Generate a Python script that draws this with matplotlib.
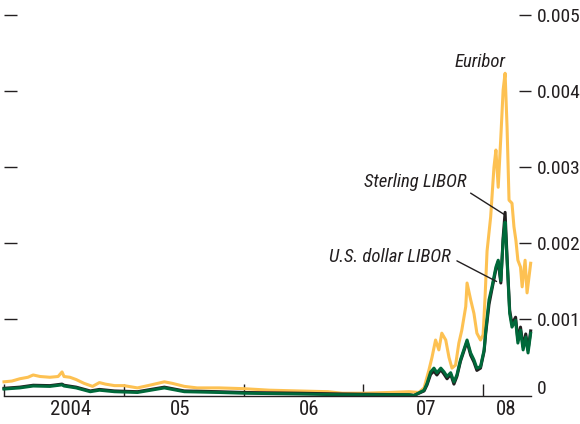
#!/usr/bin/env python

# Interbank rate spreads 2004-2008: Euribor, Sterling LIBOR, U.S. dollar LIBOR
import matplotlib
matplotlib.use("Agg")
import matplotlib.pyplot as plt
import numpy as np

plt.rcParams['font.family'] = ['Roboto Condensed', 'DejaVu Sans']

# Data
euribor_dates = [
    "2004-01-01", "2004-01-25", "2004-02-18", "2004-03-14", "2004-03-30", "2004-04-20",
    "2004-05-20", "2004-06-14", "2004-06-26", "2004-07-02", "2004-07-20", "2004-08-08",
    "2004-09-01", "2004-09-27", "2004-10-18", "2004-11-05", "2004-12-03", "2005-01-01",
    "2005-02-11", "2005-03-25", "2005-05-04", "2005-05-28", "2005-07-04", "2005-08-12",
    "2005-10-18", "2006-01-01", "2006-03-20", "2006-06-17", "2006-09-15", "2006-10-28",
    "2007-01-01", "2007-03-20", "2007-05-20", "2007-06-19", "2007-07-05", "2007-07-20",
    "2007-07-29", "2007-08-09", "2007-08-19", "2007-08-28", "2007-09-09", "2007-09-19",
    "2007-09-28", "2007-10-09", "2007-10-19", "2007-10-28", "2007-11-09", "2007-11-13",
    "2007-11-24", "2007-12-04", "2007-12-13", "2007-12-24", "2008-01-01", "2008-01-07",
    "2008-01-13", "2008-01-24", "2008-02-03", "2008-02-09", "2008-02-16", "2008-02-24",
    "2008-03-02", "2008-03-08", "2008-03-14", "2008-03-20", "2008-03-29", "2008-04-04",
    "2008-04-10", "2008-04-16", "2008-04-24", "2008-04-29", "2008-05-08", "2008-05-14",
    "2008-05-25",
]
euribor = [
    0.00018, 0.00019, 0.00022, 0.00024, 0.00027, 0.00025,
    0.00024, 0.00025, 0.00031, 0.00025, 0.00024, 0.00021,
    0.00016, 0.00012, 0.00017, 0.00015, 0.00013, 0.00013,
    0.00010, 0.00014, 0.00018, 0.00016, 0.00012, 0.00010,
    0.00010, 0.00009, 0.00007, 0.00006, 0.00005, 0.00003,
    0.00003, 0.00004, 0.00005, 0.00004, 0.00010, 0.00034,
    0.00050, 0.00073, 0.00060, 0.00082, 0.00073, 0.00050,
    0.00036, 0.00040, 0.00069, 0.00086, 0.00117, 0.00148,
    0.00126, 0.00108, 0.00082, 0.00073, 0.00080, 0.00130,
    0.00190, 0.00235, 0.00300, 0.00323, 0.00274, 0.00340,
    0.00402, 0.00424, 0.00353, 0.00257, 0.00253, 0.00222,
    0.00204, 0.00178, 0.00169, 0.00143, 0.00178, 0.00135,
    0.00174,
]

libor_dates = [
    "2004-01-01", "2004-02-18", "2004-03-30", "2004-05-20", "2004-06-26", "2004-07-02",
    "2004-08-08", "2004-09-20", "2004-10-18", "2004-12-03", "2005-02-11", "2005-05-04",
    "2005-07-04", "2005-10-18", "2006-01-01", "2006-06-17", "2006-10-28", "2007-05-20",
    "2007-06-04", "2007-07-05", "2007-07-14", "2007-07-25", "2007-08-04", "2007-08-13",
    "2007-08-25", "2007-09-04", "2007-09-13", "2007-09-24", "2007-10-04", "2007-10-13",
    "2007-10-24", "2007-11-03", "2007-11-13", "2007-11-24", "2007-12-04", "2007-12-13",
    "2007-12-24", "2008-01-04", "2008-01-09", "2008-01-19", "2008-01-28", "2008-02-09",
    "2008-02-16", "2008-02-24", "2008-03-02", "2008-03-08", "2008-03-14", "2008-03-22",
    "2008-03-29", "2008-04-09", "2008-04-16", "2008-04-24", "2008-05-02", "2008-05-10",
    "2008-05-17", "2008-05-25",
]
usd_libor = [
    0.000085, 0.00010, 0.000125, 0.00012, 0.00014, 0.000125,
    0.00010, 0.00005, 0.00007, 0.00005, 0.00004, 0.00010,
    0.00005, 0.00004, 0.00003, 0.00002, 0.00001, 0.00001,
    0.00000, 0.00007, 0.00016, 0.00031, 0.00036, 0.00030,
    0.00036, 0.00031, 0.00025, 0.00030, 0.00018, 0.00027,
    0.00047, 0.00060, 0.00073, 0.00056, 0.00047, 0.00036,
    0.00038, 0.00060, 0.00085, 0.00126, 0.00143, 0.00169,
    0.00178, 0.00151, 0.00204, 0.00228, 0.00178, 0.00108,
    0.00090, 0.00099, 0.00069, 0.00086, 0.00060, 0.00077,
    0.00056, 0.00082,
]
sterling_libor = [
    0.000095, 0.00011, 0.000135, 0.00013, 0.00015, 0.000135,
    0.00011, 0.00006, 0.00008, 0.00006, 0.00005, 0.00011,
    0.00006, 0.00005, 0.00004, 0.00003, 0.00002, 0.00001,
    0.00000, 0.00006, 0.00014, 0.00028, 0.00032, 0.00027,
    0.00034, 0.00028, 0.00022, 0.00028, 0.00015, 0.00025,
    0.00045, 0.00058, 0.00071, 0.00053, 0.00044, 0.00033,
    0.00036, 0.00058, 0.00082, 0.00120, 0.00140, 0.00166,
    0.00176, 0.00148, 0.00208, 0.00241, 0.00182, 0.00112,
    0.00094, 0.00103, 0.00073, 0.00090, 0.00064, 0.00081,
    0.00060, 0.00085,
]

year_labels = ["2004", "05", "06", "07", "08"]
year_label_pos = ["2004-07-21", "2005-06-21", "2006-07-19", "2007-07-12", "2008-03-11"]
year_ticks = ["2004-01-01", "2005-01-01", "2006-01-01", "2007-01-01", "2008-01-01"]
y_ticks = [0.001, 0.002, 0.003, 0.004, 0.005]

to_dt = lambda lst: np.array(lst, dtype="datetime64[D]")

ink = "#231f20"
c_eur = "#fdc152"
c_gbp = "#231f20"
c_usd = "#00693a"

fig = plt.figure(figsize=(5.8, 4.24), dpi=100)
ax = fig.add_axes([4 / 580, 28.5 / 424, 527 / 580, 395.5 / 424])

ax.plot(to_dt(euribor_dates), euribor, color=c_eur, lw=2.2, clip_on=False, solid_joinstyle="round")
ax.plot(to_dt(libor_dates), sterling_libor, color=c_gbp, lw=2.2, clip_on=False, solid_joinstyle="round")
ax.plot(to_dt(libor_dates), usd_libor, color=c_usd, lw=2.2, clip_on=False, solid_joinstyle="round")

ax.set_xlim(np.datetime64("2004-01-01"), np.datetime64("2008-05-26"))
ax.set_ylim(0, 0.0052039)

# spines
for s in ["left", "right", "top"]:
    ax.spines[s].set_visible(False)
ax.spines["bottom"].set_color(ink)
ax.spines["bottom"].set_linewidth(1.0)

# y ticks: dashes on both sides, labels on the right
ax.set_yticks(y_ticks)
ax.set_yticklabels([f"{v:.3f}" for v in y_ticks])
ax.tick_params(axis="y", which="major", direction="in", length=9, width=1.0, color=ink,
               left=True, right=True, labelleft=False, labelright=True,
               labelsize=14, labelcolor=ink, pad=4.2)
ax.annotate("0", xy=(1, 0), xycoords="axes fraction", xytext=(6, 6),
            textcoords="offset pixels", ha="left", va="center", fontsize=14, color=ink)

# x ticks at year starts, labels centred in each year
ax.set_xticks(to_dt(year_ticks))
ax.set_xticklabels([])
ax.set_xticks(to_dt(year_label_pos), minor=True)
ax.set_xticklabels(year_labels, minor=True)
ax.tick_params(axis="x", which="major", direction="in", length=9, width=1.0, color=ink)
ax.tick_params(axis="x", which="minor", length=0, labelsize=15, labelcolor=ink, pad=3.5)

# series labels
ax.text(np.datetime64("2007-12-23"), 0.00439, "Euribor", style="italic",
        fontsize=13.5, color=ink, ha="center", va="center")
ax.annotate("Sterling LIBOR", xy=(np.datetime64("2008-03-06"), 0.00238),
            xytext=(-89, 33), textcoords="offset pixels", style="italic",
            fontsize=13.5, color=ink, ha="center", va="center",
            arrowprops=dict(arrowstyle="-", color=ink, lw=1.0, relpos=(1, 0), shrinkA=1, shrinkB=0))
ax.annotate("U.S. dollar LIBOR", xy=(np.datetime64("2008-02-11"), 0.00150),
            xytext=(-107, 24), textcoords="offset pixels", style="italic",
            fontsize=13.5, color=ink, ha="center", va="center",
            arrowprops=dict(arrowstyle="-", color=ink, lw=1.0, relpos=(1, 0.5), shrinkA=3, shrinkB=0))

plt.savefig("out.png", dpi=100)
